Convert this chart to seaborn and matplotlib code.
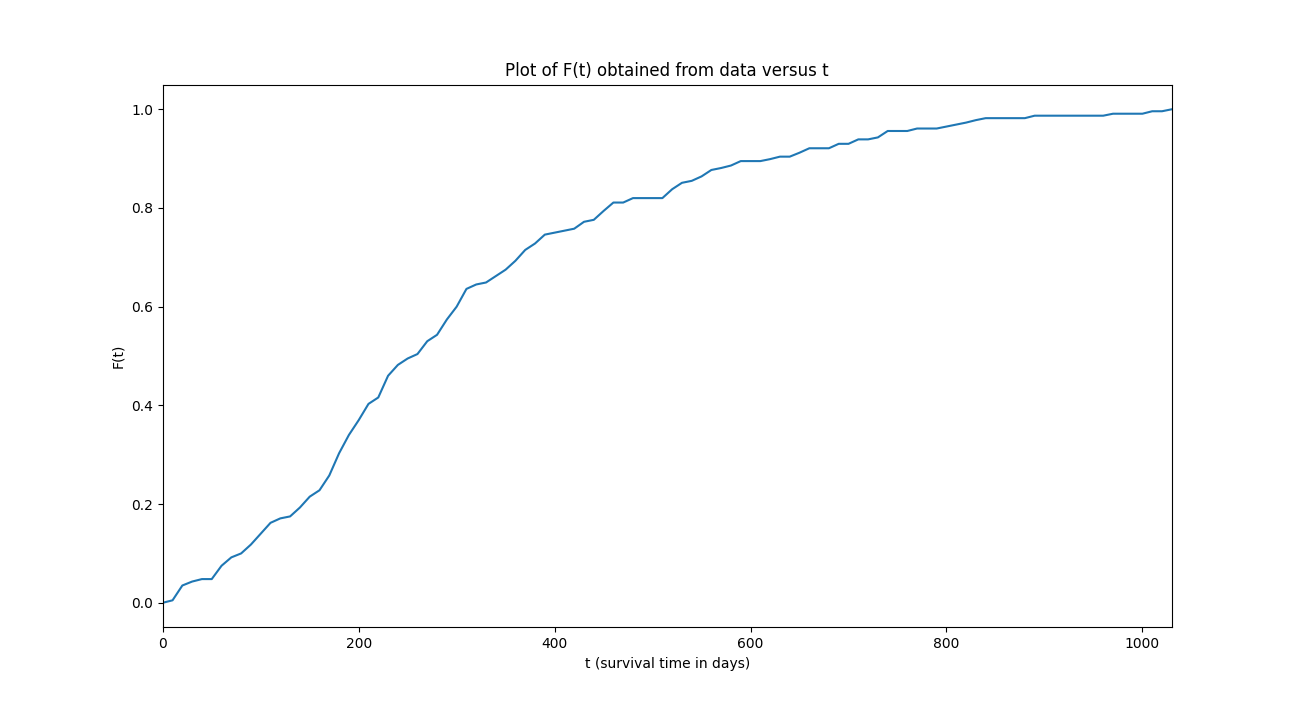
import matplotlib
matplotlib.use("Agg")
import matplotlib.pyplot as plt
import seaborn as sns
import pandas as pd

t_days = list(range(0, 1031, 10))
F_values = [0, 0.005, 0.035, 0.043, 0.048, 0.048, 0.075, 0.092, 0.10, 0.118,
            0.14, 0.162, 0.171, 0.175, 0.193, 0.215, 0.228, 0.258, 0.303, 0.34,
            0.37, 0.403, 0.416, 0.46, 0.482, 0.495, 0.504, 0.53, 0.543, 0.574,
            0.60, 0.636, 0.645, 0.649, 0.662, 0.675, 0.693, 0.715, 0.728, 0.746,
            0.75, 0.754, 0.758, 0.772, 0.776, 0.794, 0.811, 0.811, 0.82, 0.82,
            0.82, 0.82, 0.838, 0.851, 0.855, 0.864, 0.877, 0.881, 0.886, 0.895,
            0.895, 0.895, 0.899, 0.904, 0.904, 0.912, 0.921, 0.921, 0.921, 0.930,
            0.930, 0.939, 0.939, 0.943, 0.956, 0.956, 0.956, 0.961, 0.961, 0.961,
            0.965, 0.969, 0.973, 0.978, 0.982, 0.982, 0.982, 0.982, 0.982, 0.987,
            0.987, 0.987, 0.987, 0.987, 0.987, 0.987, 0.987, 0.991, 0.991, 0.991,
            0.991, 0.996, 0.996, 1.0]

df = pd.DataFrame({"t": t_days, "F": F_values})
fig, ax = plt.subplots(figsize=(13.02, 7.05), dpi=100)
sns.lineplot(data=df, x="t", y="F", ax=ax, color="#1f77b4")
ax.set_xlim(0, 1030)
ax.set_title("Plot of F(t) obtained from data versus t")
ax.set_xlabel("t (survival time in days)")
ax.set_ylabel("F(t)")
fig.savefig("out.png", dpi=100)
